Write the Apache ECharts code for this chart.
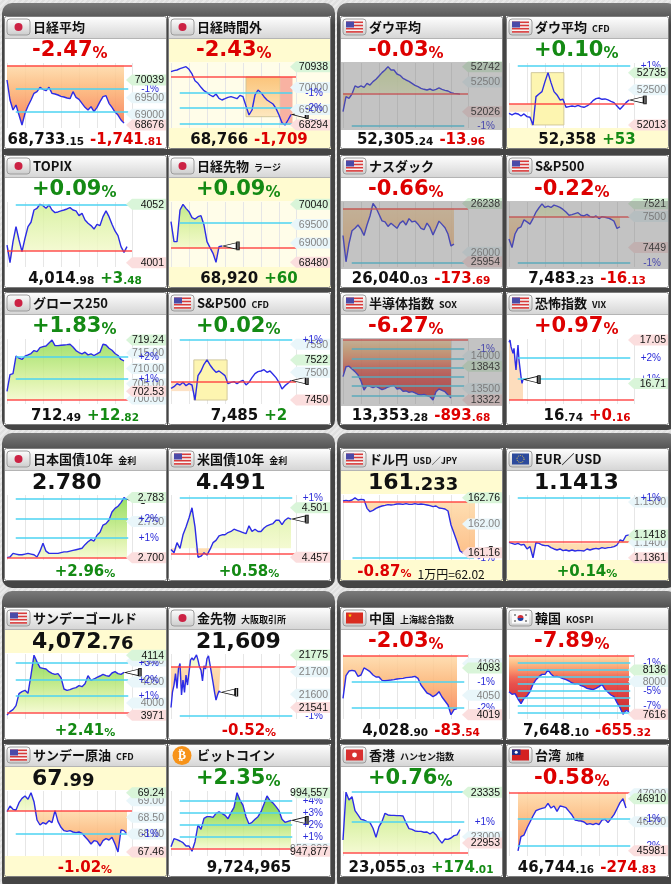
<!DOCTYPE html>
<html>
<head>
<meta charset="utf-8">
<title>マーケット一覧</title>
<script src="https://cdn.jsdelivr.net/npm/echarts@6.0.0/dist/echarts.min.js"></script>
<style>
html,body{margin:0;padding:0;}
body{background:repeating-linear-gradient(135deg,#e9e9e9 0,#e9e9e9 2px,#dfdfdf 2px,#dfdfdf 4px);}
#main{width:671px;height:884px;}
</style>
</head>
<body>
<div id="main"></div>
<script>
// ---------- 値（画面から読み取り） ----------
var nikkei = [70039, 69433, 69130, 69282, 68978, 68676, 69029, 69251, 69433, 69635, 69686, 69817, 69756, 69716, 69817, 69635, 69615, 69585, 69544, 69524, 69494, 69473, 69686, 69514, 69453, 69332, 69211, 69130, 69231, 69080, 69211, 69382, 69534, 69564, 69332, 69211, 69069, 68978, 68827, 68733];
var nikkeiNight = [70711, 70757, 70787, 70847, 70893, 70938, 70817, 70606, 70304, 70183, 70002, 69851, 69760, 69655, 69579, 69700, 69504, 69428, 69488, 69549, 69579, 69534, 69488, 69639, 69579, 69156, 68749, 68975, 69655, 69881, 69760, 69579, 69428, 69337, 69247, 69050, 68749, 68401, 68294, 68522, 68766];
var dow = [52026, 52265, 52239, 52307, 52435, 52413, 52435, 52413, 52477, 52450, 52504, 52541, 52594, 52647, 52689, 52742, 52689, 52689, 52625, 52604, 52556, 52530, 52509, 52477, 52445, 52424, 52398, 52382, 52371, 52387, 52366, 52382, 52403, 52382, 52366, 52355, 52329, 52318, 52313, 52305];
var dowCfd = [52174, 52151, 52174, 52165, 52137, 52165, 52128, 52119, 52013, 52404, 52441, 52473, 52611, 52735, 52597, 52473, 52427, 52358, 52367, 52257, 52266, 52275, 52266, 52284, 52266, 52257, 52275, 52303, 52349, 52376, 52385, 52367, 52372, 52358, 52339, 52321, 52275, 52229, 52275, 52321, 52358];
var topix = [4016.4, 4001.0, 4019.4, 4032.5, 4020.8, 4010.6, 4022.3, 4032.5, 4036.3, 4047.0, 4048.5, 4052.0, 4050.8, 4048.5, 4051.4, 4047.0, 4044.7, 4045.3, 4046.2, 4047.0, 4047.9, 4049.1, 4047.0, 4046.2, 4042.1, 4044.1, 4038.3, 4035.4, 4033.4, 4030.4, 4034.5, 4033.4, 4041.2, 4046.2, 4041.2, 4034.5, 4028.7, 4024.6, 4015.0, 4010.0, 4014.98];
var nikkeiFut = [69574, 69036, 69036, 69888, 70040, 69932, 69843, 69681, 69645, 69708, 69735, 69484, 69036, 68874, 68722, 68480, 68901, 68920];
var nasdaq = [26082, 25954, 26042, 26105, 26117, 26133, 26113, 26082, 26133, 26177, 26238, 26217, 26185, 26153, 26148, 26126, 26142, 26129, 26117, 26142, 26153, 26133, 26164, 26148, 26152, 26137, 26117, 26110, 26142, 26121, 26085, 26117, 26152, 26136, 26120, 26089, 26031, 26040.03];
var sp500 = [7463.2, 7449, 7471.3, 7480.5, 7483.2, 7494.5, 7491.3, 7487.5, 7496.7, 7507.4, 7514.5, 7521, 7515.0, 7517.1, 7515.0, 7518.8, 7517.1, 7515.0, 7511.8, 7507.4, 7502.1, 7503.1, 7504.8, 7506.4, 7502.1, 7501.0, 7503.7, 7499.9, 7498.8, 7501.0, 7496.7, 7499.9, 7498.8, 7497.7, 7495.6, 7492.4, 7480.5, 7483.23];
var growth = [702.53, 707.96, 708.29, 713.99, 713.35, 712.92, 713.99, 714.42, 714.86, 715.83, 715.50, 716.79, 717.12, 717.33, 718.30, 719.24, 717.44, 717.44, 717.55, 717.66, 717.76, 717.87, 717.01, 715.83, 715.18, 714.75, 715.29, 714.42, 714.75, 714.21, 714.75, 715.29, 717.87, 717.66, 716.58, 715.93, 714.86, 714.21, 712.92, 712.49];
var spCfd = [7471.0, 7474.0, 7479.4, 7477.0, 7481.8, 7475.8, 7479.4, 7477.0, 7450, 7493.8, 7502.1, 7514.1, 7522, 7512.9, 7505.7, 7499.7, 7502.1, 7498.0, 7493.8, 7479.4, 7481.8, 7483.0, 7479.4, 7483.0, 7485.4, 7477.0, 7481.8, 7490.2, 7497.4, 7500.9, 7502.1, 7504.5, 7499.7, 7502.1, 7496.2, 7490.2, 7481.8, 7469.8, 7475.8, 7480.0, 7485];
var sox = [13682, 13835, 13843, 13800, 13759, 13707, 13615, 13476, 13543, 13533, 13512, 13533, 13507, 13481, 13497, 13522, 13538, 13548, 13491, 13502, 13455, 13461, 13440, 13450, 13430, 13409, 13399, 13409, 13389, 13373, 13322, 13450, 13491, 13471, 13450, 13399, 13353.28];
var vix = [17.032, 17.05, 16.998, 16.972, 16.946, 16.985, 16.893, 16.815, 16.919, 17.011, 16.893, 16.828, 16.763, 16.71, 16.74];
var jgb = [2.700, 2.701, 2.706, 2.705, 2.704, 2.704, 2.705, 2.706, 2.705, 2.704, 2.701, 2.709, 2.720, 2.709, 2.706, 2.706, 2.706, 2.706, 2.707, 2.708, 2.708, 2.709, 2.710, 2.711, 2.712, 2.713, 2.718, 2.722, 2.725, 2.723, 2.731, 2.735, 2.745, 2.747, 2.752, 2.763, 2.768, 2.771, 2.776, 2.783, 2.780];
var ust = [4.464, 4.461, 4.470, 4.465, 4.477, 4.484, 4.492, 4.501, 4.484, 4.457, 4.458, 4.461, 4.459, 4.464, 4.470, 4.472, 4.476, 4.477, 4.477, 4.479, 4.480, 4.482, 4.481, 4.480, 4.479, 4.478, 4.485, 4.480, 4.482, 4.480, 4.480, 4.483, 4.485, 4.486, 4.487, 4.490, 4.490, 4.486, 4.490, 4.492, 4.491];
var usdjpy = [162.667, 162.687, 162.667, 162.696, 162.76, 162.696, 162.716, 162.706, 162.454, 162.357, 162.396, 162.454, 162.493, 162.522, 162.541, 162.561, 162.551, 162.561, 162.580, 162.580, 162.570, 162.590, 162.570, 162.570, 162.590, 162.570, 162.580, 162.570, 162.551, 162.532, 162.503, 162.522, 162.464, 162.454, 162.435, 162.377, 161.970, 161.728, 161.485, 161.214, 161.16, 161.214, 161.233, 161.195, 161.233];
var eurusd = [1.13995, 1.1397, 1.13945, 1.1397, 1.13928, 1.13945, 1.13829, 1.13887, 1.1361, 1.13995, 1.1397, 1.13928, 1.13912, 1.13912, 1.13862, 1.13829, 1.13804, 1.13829, 1.13787, 1.13804, 1.13779, 1.13804, 1.13779, 1.13795, 1.13787, 1.13779, 1.13829, 1.13804, 1.13829, 1.13845, 1.13829, 1.13862, 1.13845, 1.13862, 1.1387, 1.13887, 1.13928, 1.14053, 1.14028, 1.14161, 1.1418, 1.1413];
var gold = [3971, 3979.3, 3984.1, 3993.6, 4022.2, 4027.0, 4030.2, 4023.0, 4066.7, 4114, 4098, 4084.2, 4082.6, 4081.0, 4074.7, 4070.7, 4068.3, 4069.9, 4060.4, 4033.3, 4030.2, 4031.8, 4034.9, 4036.5, 4041.3, 4038.9, 4046.1, 4065.1, 4054.0, 4057.2, 4061.2, 4064.3, 4068.3, 4065.1, 4063.6, 4071.5, 4074.7, 4069.9, 4068.3, 4072.76];
var goldFut = [21541, 21611, 21641, 21692, 21626, 21715, 21737, 21597, 21663, 21608, 21685, 21641, 21697, 21752, 21762, 21752, 21744, 21775, 21752, 21722, 21707, 21659, 21726, 21712, 21759, 21771, 21732, 21692, 21653, 21611, 21574, 21597, 21614, 21609];
var shanghai = [4045.0, 4080.8, 4088.2, 4089.3, 4088.2, 4079.8, 4081.9, 4093, 4090.3, 4087.1, 4081.9, 4078.7, 4078.7, 4073.4, 4072.9, 4073.4, 4073.9, 4074.5, 4075.5, 4076.1, 4076.6, 4077.7, 4078.2, 4078.7, 4079.8, 4076.6, 4066.1, 4059.7, 4053.4, 4051.3, 4047.6, 4050.3, 4055.5, 4047.1, 4040.8, 4034.4, 4019, 4027.1, 4028.9];
var kospi = [7881.6, 7850.3, 7858.1, 7795.6, 7741.0, 7803.4, 7830.8, 7881.6, 7967.5, 8022.2, 8057.3, 8084.7, 8084.7, 8136, 8088.6, 8057.3, 8061.3, 8049.5, 8034.0, 8022.2, 8006.6, 7983.1, 7971.4, 7975.3, 7951.9, 7940.2, 7920.6, 7912.8, 7905.0, 7920.6, 7940.2, 7967.5, 7908.9, 7873.8, 7842.5, 7823.0, 7752.7, 7694.1, 7616, 7662.8, 7648.1];
var oil = [68.67, 68.84, 68.74, 68.72, 68.94, 69.07, 69.14, 69.04, 69.24, 68.97, 68.42, 68.27, 68.34, 68.30, 68.40, 68.34, 68.70, 68.37, 68.20, 68.10, 68.08, 68.10, 68.06, 68.04, 68.06, 68.02, 67.92, 67.82, 67.70, 67.80, 67.78, 67.64, 67.80, 67.86, 67.82, 67.90, 67.70, 67.46, 68.12, 68.10, 67.99];
var btc = [951499, 957878, 957081, 956018, 954689, 952031, 952031, 947877, 955486, 968776, 965321, 974092, 975421, 975421, 974889, 978079, 979142, 978079, 976484, 973826, 978611, 982863, 994557, 988711, 984458, 975421, 969573, 970902, 973295, 975421, 979408, 985521, 991901, 988180, 986319, 983395, 980174, 973295, 970902, 971700, 972497];
var hangseng = [22976, 23335, 23276, 23301, 23196, 23164, 23131, 23126, 23114, 23106, 23064, 22996, 23076, 23114, 23176, 23164, 23161, 23161, 23159, 23159, 23156, 23106, 23061, 23056, 23044, 23041, 23041, 23034, 23036, 23021, 23036, 23016, 22981, 22953, 22984, 22981, 22991, 23009, 23014, 23055.03];
var taiex = [45981, 46234, 46263, 46388, 46495, 46603, 46698, 46722, 46739, 46751, 46829, 46745, 46781, 46686, 46781, 46769, 46751, 46686, 46620, 46531, 46519, 46513, 46495, 46454, 46466, 46448, 46472, 46448, 46531, 46543, 46484, 46555, 46626, 46733, 46841, 46910, 46744.16];

var allSeries = [nikkei, nikkeiNight, dow, dowCfd, topix, nikkeiFut, nasdaq, sp500, growth, spCfd, sox, vix,
                 jgb, ust, usdjpy, eurusd, gold, goldFut, shanghai, kospi, oil, btc, hangseng, taiex];
// 前日終値（赤線）
var prevClose = [70475, 70475, 52319.2, 52305, 4011.5, 68860, 26213.72, 7499.36, 699.67, 7483, 14246.96, 16.58,
                 2.700, 4.465, 162.648, 1.1397, 3976.9, 21722, 4112.44, 8303.42, 68.69, 950170, 22881.02, 47018.99];
var yRanges = [[68585, 70554], [68160, 71104], [51767, 52800], [51971, 52868], [3997.2, 4054.0], [68354, 70103],
               [25928.6, 26245], [7416.9, 7524], [698.38, 719.6], [7442.9, 7559.5], [13260, 14262], [16.549, 17.058],
               [2.6968, 2.7865], [4.4546, 4.5124], [160.952, 162.842], [1.13554, 1.15176], [3961.8, 4116.8], [21490, 21779],
               [4012.3, 4115.1], [7561.3, 8322.9], [67.34, 69.29], [944057, 995888], [22856, 23343.5], [45888.5, 47048.8]];
var levelTicks = [[69500, 69000], [70000, 69000], [52500], [52500], [], [69500, 69000], [26000], [7500],
                  [715, 710, 705, 700], [7550, 7500], [14000, 13500], [], [2.75], [], [162], [1.15, 1.14],
                  [4100, 4050, 4000], [21700, 21600], [4100, 4050], [8000], [69, 68.5, 68], [950000], [23000], [47000, 46500]];
var highLow = [[70039, 68676], [70938, 68294], [52742, 52026], [52735, 52013], [4052, 4001], [70040, 68480],
               [26238, 25954], [7521, 7449], [719.24, 702.53], [7522, 7450], [13843, 13322], [17.05, 16.71],
               [2.783, 2.700], [4.501, 4.457], [162.76, 161.16], [1.1418, 1.1361], [4114, 3971], [21775, 21541],
               [4093, 4019], [8136, 7616], [69.24, 67.46], [994557, 947877], [23335, 22953], [46910, 45981]];
var pctShown = [[-1], [-1, -2, -3], [-1], [1], [1], [], [-1], [-1], [1, 2], [1], [-1], [1, 2],
                [1, 2, 3], [1], [-1], [1], [1, 2, 3], [-1], [-1, -2], [-1, -5, -7], [-1], [1, 2, 3, 4], [1], [-1, -2]];
// 時間帯の枠 [x1, x2, 値1, 値2]
var nightBoxes = [[25, 36.4, 70475, 68673], [36.4, 40.5, 70475, 68294]];
var dowCfdBoxes = [[7.4, 18.3, 52735, 52013], [0, 7.4, 52305, 52195]];
var spCfdBoxes = [[7.6, 18.7, 7522, 7450], [0, 7.6, 7483, 7466]];
var boxes = {1: nightBoxes, 3: dowCfdBoxes, 9: spCfdBoxes};

// ---------- 見た目 ----------
var RED = '#dd0000', GRN = '#148a14', YEL = '#fffbd0', LYEL = '#fffde9', WHT = '#ffffff';
var NUM = '"DejaVu Sans", Verdana, sans-serif', CJK = '"Noto Sans CJK JP", sans-serif', LBL = '"Liberation Sans", Arial, sans-serif';
var COLS = [4, 168, 340, 506], ROWS = [16, 155, 292, 448, 607, 744], CW = 163, CH = 133;
var POS = ['#f2f9c8', '#d2ef94', '#abe36a', '#84d848', '#64cc30', '#50c020'];
var NEG = ['#fed9a6', '#fcb474', '#f98858', '#ee5440', '#e43430', '#dc2626', '#d21c1c', '#ca1414', '#c20c0c'];
var boxColors = {
    1: [new echarts.graphic.LinearGradient(0, 0, 0, 1, [{offset: 0, color: '#fbc47a'}, {offset: 1, color: '#fde8c0'}]), '#f8b2a2'],
    3: ['#fdf5b0', '#fde2c6'],
    9: ['#fdf5b0', '#fde2c6']
};
var panels = [[2, 3, 333, 427], [337, 3, 340, 427], [2, 433, 333, 155], [337, 433, 340, 155], [2, 591, 333, 300], [337, 591, 340, 300]];

var cards = [
    {name: '日経平均', flag: 'jp', head: ['p', '-2.47', RED], foot: ['v', '68,733', '.15', '-1,741', '.81', RED], fill: true},
    {name: '日経時間外', flag: 'jp', head: ['p', '-2.43', RED], foot: ['v', '68,766', '', '-1,709', '', RED], bg: [YEL, LYEL, YEL], mark: true},
    {name: 'ダウ平均', flag: 'us', head: ['p', '-0.03', RED], foot: ['v', '52,305', '.24', '-13', '.96', RED], gray: true, fill: true},
    {name: 'ダウ平均', sub: 'CFD', flag: 'us', head: ['p', '+0.10', GRN], foot: ['v', '52,358', '', '+53', '', GRN], bg: [WHT, WHT, YEL], mark: true},
    {name: 'TOPIX', flag: 'jp', head: ['p', '+0.09', GRN], foot: ['v', '4,014', '.98', '+3', '.48', GRN], fill: true},
    {name: '日経先物', sub: 'ラージ', flag: 'jp', head: ['p', '+0.09', GRN], foot: ['v', '68,920', '', '+60', '', GRN], bg: [YEL, LYEL, YEL], fill: true, mark: true},
    {name: 'ナスダック', flag: 'us', head: ['p', '-0.66', RED], foot: ['v', '26,040', '.03', '-173', '.69', RED], gray: true, fill: true},
    {name: 'S&P500', flag: 'us', head: ['p', '-0.22', RED], foot: ['v', '7,483', '.23', '-16', '.13', RED], gray: true, fill: true},
    {name: 'グロース250', flag: 'jp', head: ['p', '+1.83', GRN], foot: ['v', '712', '.49', '+12', '.82', GRN], fill: true, dec: 2},
    {name: 'S&P500', sub: 'CFD', flag: 'us', head: ['p', '+0.02', GRN], foot: ['v', '7,485', '', '+2', '', GRN], mark: true},
    {name: '半導体指数', sub: 'SOX', flag: 'us', head: ['p', '-6.27', RED], foot: ['v', '13,353', '.28', '-893', '.68', RED], gray: true, fill: true},
    {name: '恐怖指数', sub: 'VIX', flag: 'us', head: ['p', '+0.97', RED], foot: ['v', '16', '.74', '+0', '.16', RED], fill: true, inv: true, mark: true, dec: 2, slots: 125, iv: 18},
    {name: '日本国債10年', sub: '金利', flag: 'jp', head: ['b', '2.780', ''], foot: ['p', '+2.96', GRN], fill: true, mark: true, dec: 3},
    {name: '米国債10年', sub: '金利', flag: 'us', head: ['b', '4.491', ''], foot: ['p', '+0.58', GRN], fill: true, mark: true, dec: 3},
    {name: 'ドル円', sub: 'USD／JPY', flag: 'us', head: ['b', '161', '.233'], foot: ['p', '-0.87', RED, '1万円=62.02'], bg: [YEL, WHT, YEL], fill: true, mark: true, dec: 2, width: 135},
    {name: 'EUR／USD', flag: 'eu', head: ['b', '1.1413', ''], foot: ['p', '+0.14', GRN], bg: [WHT, WHT, YEL], fill: true, mark: true, dec: 4},
    {name: 'サンデーゴールド', flag: 'us', head: ['b', '4,072', '.76'], foot: ['p', '+2.41', GRN], bg: [YEL, WHT, WHT], fill: true, mark: true},
    {name: '金先物', sub: '大阪取引所', flag: 'jp', head: ['b', '21,609', ''], foot: ['p', '-0.52', RED], fill: true, mark: true, slots: 83.33, iv: 12},
    {name: '中国', sub: '上海総合指数', flag: 'cn', head: ['p', '-2.03', RED], foot: ['v', '4,028', '.90', '-83', '.54', RED], fill: true},
    {name: '韓国', sub: 'KOSPI', flag: 'kr', head: ['p', '-7.89', RED], foot: ['v', '7,648', '.10', '-655', '.32', RED], fill: true},
    {name: 'サンデー原油', sub: 'CFD', flag: 'us', head: ['b', '67', '.99'], foot: ['p', '-1.02', RED], bg: [YEL, WHT, YEL], fill: true, mark: true, dec: 2},
    {name: 'ビットコイン', flag: 'btc', head: ['p', '+2.35', GRN], foot: ['n', '9,724,965'], fill: true, mark: true, comma: true},
    {name: '香港', sub: 'ハンセン指数', flag: 'hk', head: ['p', '+0.76', GRN], foot: ['v', '23,055', '.03', '+174', '.01', GRN], fill: true},
    {name: '台湾', sub: '加権', flag: 'tw', head: ['p', '-0.58', RED], foot: ['v', '46,744', '.16', '-274', '.83', RED], fill: true, off: 3}
];

function stops(cols) {
    return cols.map(function (c, j) { return {offset: j / (cols.length - 1), color: c}; });
}
function fmt(v, dec, comma) {
    var s = v.toFixed(dec || 0);
    return comma ? s.replace(/\B(?=(\d{3})+(?!\d))/g, ',') : s;
}
function vgrad(y1, y2, c1, c2) {
    return new echarts.graphic.LinearGradient(0, y1, 0, y2, [{offset: 0, color: c1}, {offset: 1, color: c2}], true);
}

var chart = echarts.init(document.getElementById('main'));
var grids = [], xAxes = [], yAxes = [], series = [];

cards.forEach(function (c, i) {
    var x0 = COLS[i % 4], y0 = ROWS[Math.floor(i / 4)];
    var gw = c.width || 125, slots = c.slots || gw / 3, off = c.off || 0;
    var ref = prevClose[i], rg = yRanges[i], vals = allSeries[i];
    var gTop = y0 + 47, gH = 65;
    function py(v) { return gTop + (rg[1] - v) / (rg[1] - rg[0]) * gH; }

    grids.push({left: x0 + 3, top: gTop, width: gw, height: gH});
    xAxes.push({type: 'value', gridIndex: i, min: 0, max: slots, interval: c.iv || 6,
        axisLine: {show: false}, axisTick: {show: false}, axisLabel: {show: false},
        splitLine: {show: true, lineStyle: {color: '#e6e6e6', width: 1}}});
    yAxes.push({type: 'value', gridIndex: i, min: rg[0], max: rg[1], show: false, splitLine: {show: false}});

    var pts = vals.map(function (v, k) { return [k + off, v]; });
    var lines = [];
    for (var k = -9; k <= 9; k++) {
        if (!k) continue;
        var lv = ref * (1 + k / 100);
        if (lv > rg[0] && lv < rg[1]) lines.push([{coord: [slots * 0.07, lv]}, {coord: [slots * 0.97, lv]}]);
    }
    var areas = (boxes[i] || []).map(function (b, j) {
        return [{coord: [b[0], b[2]], itemStyle: {color: boxColors[i][j], borderColor: 'rgba(205,195,150,0.9)', borderWidth: j === 0 ? 1 : 0}},
                {coord: [b[1], b[3]]}];
    });
    // %ライン・時間帯枠
    series.push({type: 'line', xAxisIndex: i, yAxisIndex: i, data: pts, symbol: 'none', silent: true, z: 1,
        lineStyle: {opacity: 0},
        markLine: {silent: true, symbol: ['none', 'none'], label: {show: false},
            lineStyle: {color: '#4cd3f2', width: 1.6, type: 'solid', opacity: 1}, data: lines},
        markArea: {silent: true, data: areas}});
    if (c.fill) {
        var upColor = c.inv ? '#fcd6ae' : new echarts.graphic.LinearGradient(0, py(ref), 0, py(ref * 1.05), stops(POS), true);
        var dnColor = new echarts.graphic.LinearGradient(0, py(ref), 0, py(ref * 0.92), stops(NEG), true);
        series.push({type: 'line', xAxisIndex: i, yAxisIndex: i, symbol: 'none', silent: true, z: 2,
            data: vals.map(function (v, k) { return [k + off, Math.max(v, ref)]; }),
            lineStyle: {width: 0, opacity: 0}, areaStyle: {origin: ref, color: upColor, opacity: 0.82}});
        series.push({type: 'line', xAxisIndex: i, yAxisIndex: i, symbol: 'none', silent: true, z: 2,
            data: vals.map(function (v, k) { return [k + off, Math.min(v, ref)]; }),
            lineStyle: {width: 0, opacity: 0}, areaStyle: {origin: ref, color: dnColor, opacity: 0.86}});
    }
    // 前日終値
    series.push({type: 'line', xAxisIndex: i, yAxisIndex: i, data: pts, symbol: 'none', silent: true, z: 3,
        lineStyle: {opacity: 0},
        markLine: {silent: true, symbol: ['none', 'none'], label: {show: false},
            lineStyle: {color: '#ff3c3c', width: 1.6, type: 'solid', opacity: 0.9}, data: [{yAxis: ref}]}});
    var main = {type: 'line', xAxisIndex: i, yAxisIndex: i, data: pts, symbol: 'none', silent: true, z: 4,
        lineStyle: {color: '#2c2ce6', width: 1.4}};
    if (c.mark) {
        main.markPoint = {silent: true, symbol: 'path://M0,4L13,0.8L13,7.2Z M13.5,0L15.5,0L15.5,8L13.5,8Z',
            symbolSize: [16, 8], symbolOffset: [9, 0], symbolKeepAspect: false,
            itemStyle: {color: '#ffffff', borderColor: '#111111', borderWidth: 1}, label: {show: false},
            data: [{coord: pts[pts.length - 1]}]};
    }
    series.push(main);
});

chart.setOption({animation: false, backgroundColor: 'transparent', grid: grids, xAxis: xAxes, yAxis: yAxes, series: series});

// ---------- 枠・文字・ラベル ----------
var els = [];
panels.forEach(function (p) {
    els.push({type: 'rect', silent: true, z: -20, shape: {x: p[0], y: p[1], width: p[2], height: p[3], r: 10},
        style: {fill: vgrad(p[1], p[1] + 22, '#7a7a7a', '#454545')}});
});

function tok(size, color, family, weight) {
    return {fontSize: size, fontFamily: family || NUM, fontWeight: weight || 'bold', fill: color, verticalAlign: 'bottom'};
}

function flag(type, x, y) {
    var z = 13;
    if (type === 'btc') {
        els.push({type: 'circle', silent: true, z: z, shape: {cx: x + 11, cy: y + 8.5, r: 9.5}, style: {fill: '#f7931a'}});
        els.push({type: 'text', silent: true, z: z + 1, x: x + 11, y: y + 9,
            style: {text: '₿', fill: '#ffffff', font: 'bold 12px "DejaVu Sans"', align: 'center', verticalAlign: 'middle'}});
        return;
    }
    els.push({type: 'rect', silent: true, z: z, shape: {x: x, y: y, width: 23, height: 16, r: 3},
        style: {fill: vgrad(y, y + 16, '#fdfdfd', '#cdcdcd'), stroke: '#9c9c9c', lineWidth: 1}});
    var fx = x + 3, fy = y + 2.5, fw = 17, fh = 11;
    function r(ax, ay, w, h, col) {
        els.push({type: 'rect', silent: true, z: z + 1, shape: {x: ax, y: ay, width: w, height: h}, style: {fill: col}});
    }
    if (type === 'jp') {
        els.push({type: 'circle', silent: true, z: z + 1, shape: {cx: x + 11.5, cy: y + 8, r: 4}, style: {fill: '#cc2244'}});
    } else if (type === 'us') {
        r(fx, fy, fw, fh, '#f6f6f6');
        for (var k = 0; k < 4; k++) r(fx, fy + k * 3.2, fw, 1.6, '#d83a3a');
        r(fx, fy, 8, 6, '#4a4aa8');
    } else if (type === 'eu') {
        r(fx, fy, fw, fh, '#2c4a9c');
        els.push({type: 'circle', silent: true, z: z + 2, shape: {cx: fx + fw / 2, cy: fy + fh / 2, r: 3.5},
            style: {fill: 'none', stroke: '#f3d34a', lineWidth: 1, lineDash: [1, 1.2]}});
    } else if (type === 'cn') {
        r(fx, fy, fw, fh, '#d92c20');
        els.push({type: 'text', silent: true, z: z + 2, x: fx + 4, y: fy + 3.5,
            style: {text: '★', fill: '#ffd000', font: '5px "DejaVu Sans"', align: 'center', verticalAlign: 'middle'}});
    } else if (type === 'kr') {
        r(fx, fy, fw, fh, '#fafafa');
        var cx = fx + fw / 2, cy = fy + fh / 2;
        els.push({type: 'sector', silent: true, z: z + 2, shape: {cx: cx, cy: cy, r: 3, startAngle: Math.PI, endAngle: Math.PI * 2}, style: {fill: '#d0303a'}});
        els.push({type: 'sector', silent: true, z: z + 2, shape: {cx: cx, cy: cy, r: 3, startAngle: 0, endAngle: Math.PI}, style: {fill: '#2040a0'}});
        r(fx + 2, fy + 2, 2, 1, '#333'); r(fx + 13, fy + 2, 2, 1, '#333');
        r(fx + 2, fy + 8, 2, 1, '#333'); r(fx + 13, fy + 8, 2, 1, '#333');
    } else if (type === 'hk') {
        r(fx, fy, fw, fh, '#d83030');
        els.push({type: 'circle', silent: true, z: z + 2, shape: {cx: fx + fw / 2, cy: fy + fh / 2, r: 2.4}, style: {fill: '#ffffff'}});
    } else if (type === 'tw') {
        r(fx, fy, fw, fh, '#d42020');
        r(fx, fy, 8.5, 5.5, '#1e2f8a');
        els.push({type: 'circle', silent: true, z: z + 2, shape: {cx: fx + 4.2, cy: fy + 2.7, r: 1.5}, style: {fill: '#ffffff'}});
    }
}

function tag(x0, y, txt, bg, fg) {
    els.push({type: 'polygon', silent: true, z: 15,
        shape: {points: [[x0 + 122, y], [x0 + 128, y - 5.5], [x0 + CW - 1, y - 5.5], [x0 + CW - 1, y + 5.5], [x0 + 128, y + 5.5]]},
        style: {fill: bg}});
    els.push({type: 'text', silent: true, z: 15, x: x0 + CW - 3, y: y + 0.5,
        style: {text: txt, fill: fg, font: '10.5px ' + LBL, align: 'right', verticalAlign: 'middle'}});
}

cards.forEach(function (c, i) {
    var x0 = COLS[i % 4], y0 = ROWS[Math.floor(i / 4)];
    var bg = c.bg || [WHT, WHT, WHT];
    function yp(v) { return chart.convertToPixel({gridIndex: i}, [0, v])[1]; }

    // カード地
    els.push({type: 'rect', silent: true, z: -10, shape: {x: x0, y: y0 + 22, width: CW, height: 24}, style: {fill: bg[0]}});
    els.push({type: 'rect', silent: true, z: -10, shape: {x: x0, y: y0 + 46, width: CW, height: 66}, style: {fill: bg[1]}});
    els.push({type: 'rect', silent: true, z: -10, shape: {x: x0, y: y0 + 112, width: CW, height: CH - 112}, style: {fill: bg[2]}});
    els.push({type: 'rect', silent: true, z: 12, shape: {x: x0, y: y0, width: CW, height: 22},
        style: {fill: vgrad(y0, y0 + 22, '#ffffff', '#d6d6d6')}});
    els.push({type: 'line', silent: true, z: 12, shape: {x1: x0, y1: y0 + 22.5, x2: x0 + CW, y2: y0 + 22.5},
        style: {stroke: '#b4b4b4', lineWidth: 1}});
    flag(c.flag, x0 + 3, y0 + 3);

    // 名称
    els.push({type: 'text', silent: true, z: 14, x: x0 + 29, y: y0 + 11.5,
        style: {text: '{t|' + c.name + '}' + (c.sub ? '{s|' + c.sub + '}' : ''),
            rich: {t: tok(13, '#111', CJK), s: {fontSize: 9, fontFamily: CJK, fontWeight: 'bold', fill: '#111', verticalAlign: 'bottom', padding: [0, 0, 1, 5]}},
            align: 'left', verticalAlign: 'middle'}});

    // 上段
    var h = c.head, ht;
    if (h[0] === 'p') {
        ht = {text: '{n|' + h[1] + '}{u|%}', rich: {n: tok(21, h[2]), u: tok(15, h[2])}};
    } else {
        ht = {text: '{n|' + h[1] + '}' + (h[2] ? '{d|' + h[2] + '}' : ''), rich: {n: tok(22, '#111'), d: tok(18, '#111')}};
    }
    ht.align = 'left'; ht.verticalAlign = 'middle';
    els.push({type: 'text', silent: true, z: 14, x: x0 + 28, y: y0 + 35, style: ht});

    // 下段
    var f = c.foot, ft;
    if (f[0] === 'v') {
        var cs = tok(15, f[5]); cs.padding = [0, 0, 0, 6];
        ft = {text: '{a|' + f[1] + '}' + (f[2] ? '{b|' + f[2] + '}' : '') + '{c|' + f[3] + '}' + (f[4] ? '{d|' + f[4] + '}' : ''),
            rich: {a: tok(15, '#111'), b: tok(10.5, '#111'), c: cs, d: tok(10.5, f[5])}};
    } else if (f[0] === 'p') {
        var xs = tok(12, '#111', CJK, 'normal'); xs.padding = [0, 0, 0, 6];
        ft = {text: '{n|' + f[1] + '}{u|%}' + (f[3] ? '{x|' + f[3] + '}' : ''),
            rich: {n: tok(15, f[2]), u: tok(11, f[2]), x: xs}};
    } else {
        ft = {text: '{n|' + f[1] + '}', rich: {n: tok(15, '#111')}};
    }
    ft.align = 'center'; ft.verticalAlign = 'middle';
    els.push({type: 'text', silent: true, z: 14, x: x0 + 81, y: y0 + 124.5, style: ft});

    // 右側ラベル
    var dec = c.dec || 0;
    levelTicks[i].forEach(function (v) { tag(x0, yp(v), fmt(v, dec, c.comma), '#e9f6fa', '#848484'); });
    pctShown[i].forEach(function (k) {
        els.push({type: 'text', silent: true, z: 15, x: x0 + CW - 8, y: yp(prevClose[i] * (1 + k / 100)) + 0.5,
            style: {text: (k > 0 ? '+' : '') + k + '%', fill: '#2a2ad8', font: '10px ' + LBL, align: 'right', verticalAlign: 'middle'}});
    });
    var hl = highLow[i];
    var hiBg = c.inv ? '#fbdede' : '#d9f5d9', loBg = c.inv ? '#d9f5d9' : '#fbdede';
    tag(x0, yp(hl[0]), fmt(hl[0], dec, c.comma), hiBg, '#111');
    tag(x0, yp(hl[1]), fmt(hl[1], dec, c.comma), loBg, '#111');

    if (c.gray) {
        els.push({type: 'rect', silent: true, z: 20, shape: {x: x0, y: y0 + 46, width: CW, height: 68},
            style: {fill: 'rgba(112,112,112,0.42)'}});
    }
    els.push({type: 'rect', silent: true, z: 21, shape: {x: x0 + 0.5, y: y0 + 0.5, width: CW - 1, height: CH - 1, r: 2},
        style: {fill: 'none', stroke: '#7e7e7e', lineWidth: 1}});
});

chart.setOption({graphic: {elements: els}});
</script>
</body>
</html>
